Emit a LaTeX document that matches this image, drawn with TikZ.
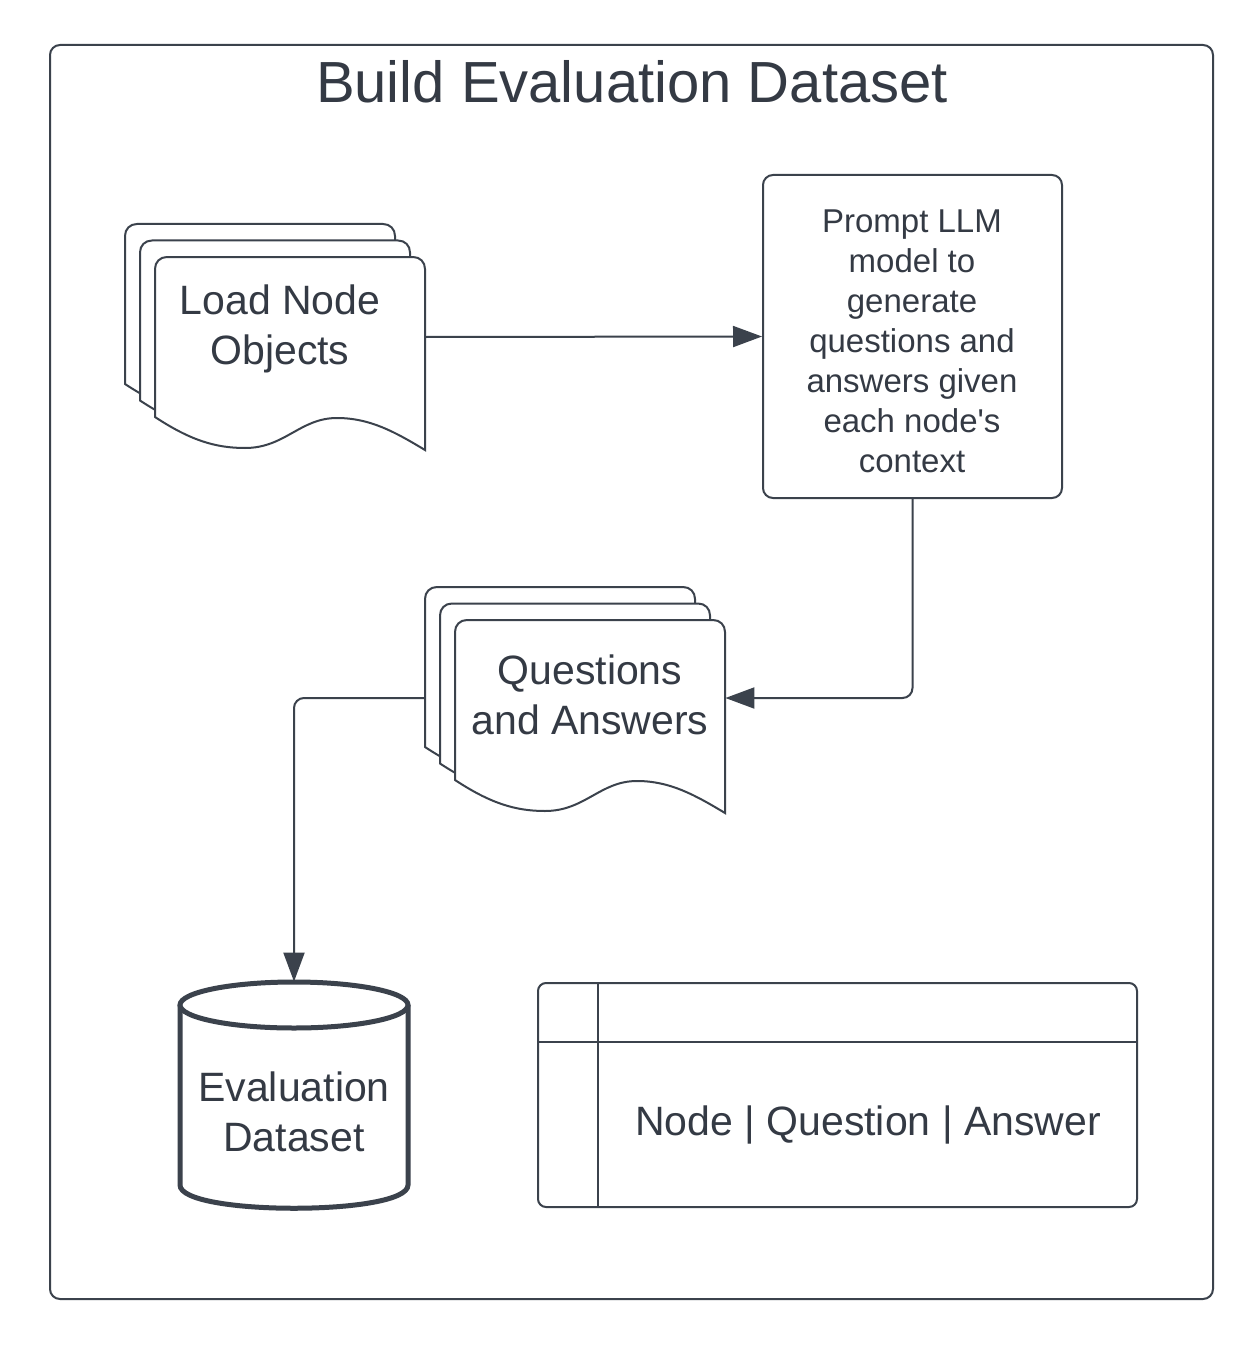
\documentclass[tikz,border=0pt]{standalone}
\usepackage{fontspec}
\setmainfont{Liberation Sans}
\usetikzlibrary{arrows.meta}
\definecolor{ln}{HTML}{3B424C}
\definecolor{tx}{HTML}{343A44}
\tikzset{
  docsheet/.pic={
    \path[draw=ln, line width=1pt, fill=white]
      (0,160) -- (0,12) .. controls (0,5) and (5,0) .. (12,0) -- (258,0)
      .. controls (265,0) and (270,5) .. (270,12) -- (270,193)
      .. controls (240,175) and (215,161) .. (182,161)
      .. controls (145,161) and (130,191) .. (90,191)
      .. controls (60,191) and (35,183) .. (0,160) -- cycle;
  },
  anchorbox/.style={draw=none, inner sep=0pt, minimum width=135pt, minimum height=80pt},
  lbl/.style={text=tx, align=center, inner sep=0pt},
  conn/.style={draw=ln, line width=1pt, -{Triangle[length=14.5pt,width=10.5pt]}, rounded corners=5pt},
}
\begin{document}
\begin{tikzpicture}[x=0.5pt, y=-0.5pt]
\useasboundingbox (0,0) rectangle (1256,1348);
\fill[white] (0,0) rectangle (1256,1348);
% frame
\draw[ln, line width=1pt, rounded corners=5pt] (50,45) rectangle (1213,1299);
\node[lbl, font=\fontsize{29pt}{34pt}\selectfont] (title) at (632,82) {Build Evaluation Dataset};
% Load Node Objects stack
\pic at (125,224) {docsheet};
\pic at (140,240.5) {docsheet};
\pic at (155,257) {docsheet};
\node[anchorbox] (load) at (290,337) {};
\node[lbl, font=\fontsize{20.5pt}{25pt}\selectfont] (loadtxt) at (280,329) {Load Node\\Objects};
% Prompt box
\node[draw=ln, line width=1pt, rounded corners=5pt, minimum width=149.5pt, minimum height=161.5pt, inner sep=0pt] (prompt) at (912.5,336.5) {};
\node[lbl, font=\fontsize{16.5pt}{20pt}\selectfont] (prompttxt) at (912,341) {Prompt LLM\\model to\\generate\\questions and\\answers given\\each node\textquotesingle s\\context};
% Q&A stack
\pic at (425,587) {docsheet};
\pic at (440,603.5) {docsheet};
\pic at (455,620) {docsheet};
\node[anchorbox] (qa) at (590,698) {};
\node[anchorbox] (qaback) at (560,698) {};
\node[lbl, font=\fontsize{20.5pt}{25pt}\selectfont] (qatxt) at (590,695) {Questions\\and Answers};
% Cylinder
\path[draw=ln, line width=2.5pt, fill=white] (180,1005) -- (180,1185) .. controls (180,1216) and (408,1216) .. (408,1185) -- (408,1005);
\draw[ln, line width=2.5pt, fill=white] (294,1005) ellipse [x radius=57pt, y radius=11.5pt];
\node[draw=none, inner sep=0pt, minimum width=114pt, minimum height=113pt] (db) at (294,1095) {};
\node[lbl, font=\fontsize{20.5pt}{25pt}\selectfont] (dbtxt) at (294,1112) {Evaluation\\Dataset};
% Table
\node[draw=ln, line width=1pt, rounded corners=4pt, minimum width=299.5pt, minimum height=112pt, inner sep=0pt] (tbl) at (837.5,1095) {};
\draw[ln, line width=1pt] (tbl.west |- 0,1042) -- (tbl.east |- 0,1042);
\draw[ln, line width=1pt] (598,0 |- tbl.north) -- (598,0 |- tbl.south);
\node[lbl, font=\fontsize{20.5pt}{25pt}\selectfont] (tbltxt) at (868,1125) {Node | Question | Answer};
% connectors
\draw[conn] (load.east) -- (prompt.west);
\draw[conn] (prompt.south) |- (qa.east);
\draw[conn] (qaback.west) -| (db.north);
\end{tikzpicture}
\end{document}
